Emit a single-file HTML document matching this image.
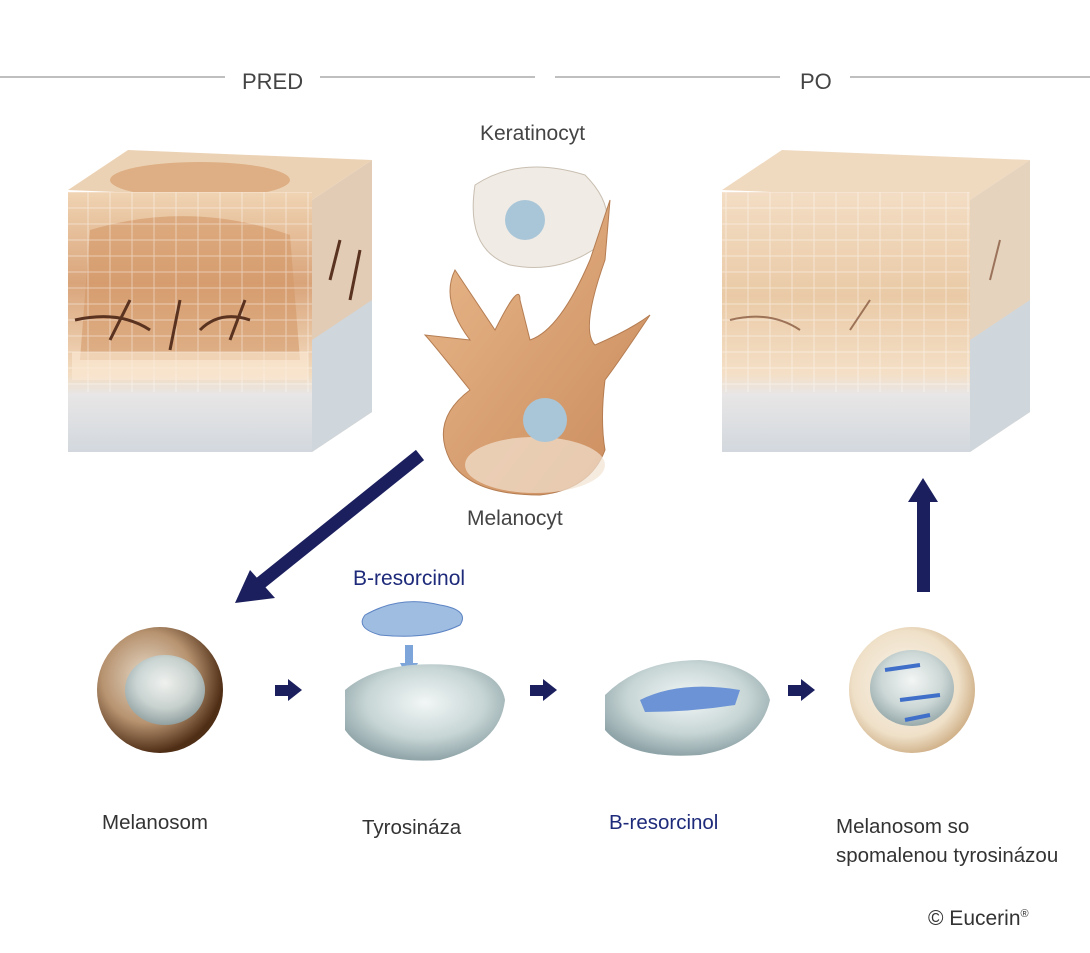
<!DOCTYPE html>
<html><head><meta charset="utf-8"><style>
body{margin:0;width:1090px;height:953px;background:#fff;overflow:hidden;font-family:"Liberation Sans",sans-serif;}
svg{position:absolute;left:0;top:0}
</style></head><body>
<svg width="1090" height="953" viewBox="0 0 1090 953">
<defs>
<radialGradient id="brown" cx="40%" cy="40%" r="60%"><stop offset="0" stop-color="#e8dccb"/><stop offset="0.6" stop-color="#b79370"/><stop offset="1" stop-color="#4f2e16"/></radialGradient>
<radialGradient id="beige" cx="45%" cy="45%" r="60%"><stop offset="0" stop-color="#fbf6ee"/><stop offset="0.7" stop-color="#efe0c8"/><stop offset="1" stop-color="#c9a77c"/></radialGradient>
<radialGradient id="prot" cx="50%" cy="40%" r="60%"><stop offset="0" stop-color="#f2f6f6"/><stop offset="0.6" stop-color="#c8d6d6"/><stop offset="1" stop-color="#8fa4a8"/></radialGradient>
<linearGradient id="front" x1="0" y1="0" x2="0" y2="1"><stop offset="0" stop-color="#f0d4b3"/><stop offset="0.35" stop-color="#d9a47a"/><stop offset="0.7" stop-color="#f3dcc0"/><stop offset="0.78" stop-color="#e8e6e6"/><stop offset="1" stop-color="#d2d8de"/></linearGradient>
<linearGradient id="front2" x1="0" y1="0" x2="0" y2="1"><stop offset="0" stop-color="#f3ddc4"/><stop offset="0.4" stop-color="#eacaa6"/><stop offset="0.7" stop-color="#f4dfc6"/><stop offset="0.78" stop-color="#e8e6e6"/><stop offset="1" stop-color="#d2d8de"/></linearGradient>
<linearGradient id="cellg" x1="0" y1="0" x2="1" y2="1"><stop offset="0" stop-color="#e9b98c"/><stop offset="1" stop-color="#c98a5b"/></linearGradient>
<pattern id="cells" width="22" height="16" patternUnits="userSpaceOnUse"><rect width="22" height="16" fill="none" stroke="#fff" stroke-opacity="0.45" stroke-width="1"/></pattern>
</defs>
<g stroke="#999" stroke-width="1.2">
<line x1="0" y1="77" x2="225" y2="77"/><line x1="320" y1="77" x2="535" y2="77"/>
<line x1="555" y1="77" x2="780" y2="77"/><line x1="850" y1="77" x2="1090" y2="77"/>
</g>
<g font-size="22" fill="#444">
<text x="242" y="89">PRED</text><text x="800" y="89">PO</text>
</g>
<!-- left cube -->
<polygon points="68,190 128,150 372,160 312,200" fill="#ecd2b4"/>
<ellipse cx="200" cy="180" rx="90" ry="18" fill="#d9a06f" opacity="0.7"/>
<rect x="68" y="192" width="244" height="260" fill="url(#front)"/>
<path d="M90,230 Q190,200 290,235 L300,360 L80,360 Z" fill="#d49868" opacity="0.6"/>
<rect x="68" y="192" width="244" height="200" fill="url(#cells)"/>
<polygon points="312,200 372,160 372,412 312,452" fill="#e2ccb5"/>
<polygon points="312,340 372,300 372,412 312,452" fill="#cfd6dc"/>
<g stroke="#5a3220" stroke-width="3" fill="none">
<path d="M75,320 Q120,310 150,330 M110,340 L130,300 M170,350 L180,300 M200,330 Q220,310 250,320 M230,340 L245,300"/>
<path d="M330,280 L340,240 M350,300 L360,250"/>
</g>
<rect x="72" y="352" width="236" height="28" fill="#fbead6" opacity="0.6"/>
<!-- right cube -->
<polygon points="722,190 782,150 1030,160 970,200" fill="#efd9bf"/>
<rect x="722" y="192" width="248" height="260" fill="url(#front2)"/>
<rect x="722" y="192" width="248" height="200" fill="url(#cells)"/>
<polygon points="970,200 1030,160 1030,412 970,452" fill="#e6d3be"/>
<polygon points="970,340 1030,300 1030,412 970,452" fill="#cfd6dc"/>
<g stroke="#7a4a30" stroke-width="2" fill="none" opacity="0.7">
<path d="M730,320 Q770,310 800,330 M850,330 L870,300 M990,280 L1000,240"/>
</g>
<!-- cells -->
<text x="480" y="140" font-size="21" fill="#444">Keratinocyt</text>
<path d="M475,185 Q520,155 585,175 Q620,210 600,245 Q560,275 510,265 Q465,250 475,185Z" fill="#f0ebe4" stroke="#c9bfb2"/>
<circle cx="525" cy="220" r="20" fill="#a9c6d8"/>
<path d="M470,340 Q440,300 455,270 Q475,300 495,330 Q520,280 520,300 L530,340 Q560,330 590,260 L610,200 L605,260 Q580,330 595,345 Q630,330 650,315 Q620,360 605,380 Q600,420 605,450 Q590,490 540,495 Q470,495 450,460 Q430,420 470,390 Q430,340 425,335Z" fill="url(#cellg)" stroke="#b57d52"/>
<ellipse cx="535" cy="465" rx="70" ry="28" fill="#f2e3d2" opacity="0.7"/>
<circle cx="545" cy="420" r="22" fill="#a9c6d8"/>
<text x="467" y="525" font-size="21" fill="#444">Melanocyt</text>
<!-- arrows -->
<g fill="#1b1f5e" stroke="none">
<line x1="420" y1="455" x2="258" y2="585" stroke="#1b1f5e" stroke-width="13"/>
<polygon points="235,603 250,570 275,598"/>
<rect x="917" y="500" width="13" height="92"/>
<polygon points="908,502 923,478 938,502"/>
<rect x="275" y="685" width="15" height="11"/><polygon points="288,679 302,690 288,701"/>
<rect x="530" y="685" width="15" height="11"/><polygon points="543,679 557,690 543,701"/>
<rect x="788" y="685" width="15" height="11"/><polygon points="801,679 815,690 801,701"/>
</g>
<!-- spheres -->
<circle cx="160" cy="690" r="63" fill="url(#brown)"/>
<ellipse cx="165" cy="690" rx="40" ry="35" fill="url(#prot)" opacity="0.9"/>
<circle cx="912" cy="690" r="63" fill="url(#beige)"/>
<ellipse cx="912" cy="688" rx="42" ry="38" fill="url(#prot)" opacity="0.9"/>
<path d="M885,670 L920,665 M900,700 L940,695 M905,720 L930,715" stroke="#3f6fc9" stroke-width="4"/>
<!-- tyrosinase -->
<text x="353" y="585" font-size="21" fill="#1e2a7a">B-resorcinol</text>
<path d="M365,615 Q400,595 440,605 Q470,610 460,625 Q430,640 380,635 Q355,628 365,615Z" fill="#9fbde0" stroke="#5d84c4"/>
<rect x="405" y="645" width="8" height="20" fill="#7da5da"/><polygon points="400,663 418,663 409,680" fill="#7da5da"/>
<path d="M345,690 Q380,660 450,665 Q500,670 505,700 Q500,745 440,760 Q370,765 345,730Z" fill="url(#prot)"/>
<path d="M605,695 Q640,660 700,660 Q760,665 770,700 Q760,745 700,755 Q630,760 605,730Z" fill="url(#prot)"/>
<path d="M640,700 Q680,680 740,690 L735,705 Q690,712 645,712Z" fill="#6b93d6"/>
<!-- labels -->
<g font-size="20.5" fill="#333">
<text x="102" y="829">Melanosom</text>
<text x="362" y="834">Tyrosináza</text>
<text x="609" y="829" fill="#1e2a7a">B-resorcinol</text>
<text x="836" y="833">Melanosom so</text>
<text x="836" y="862">spomalenou tyrosinázou</text>
<text x="928" y="925" font-size="21">© Eucerin<tspan font-size="11" dy="-8">®</tspan></text>
</g>
</svg>
</body></html>
